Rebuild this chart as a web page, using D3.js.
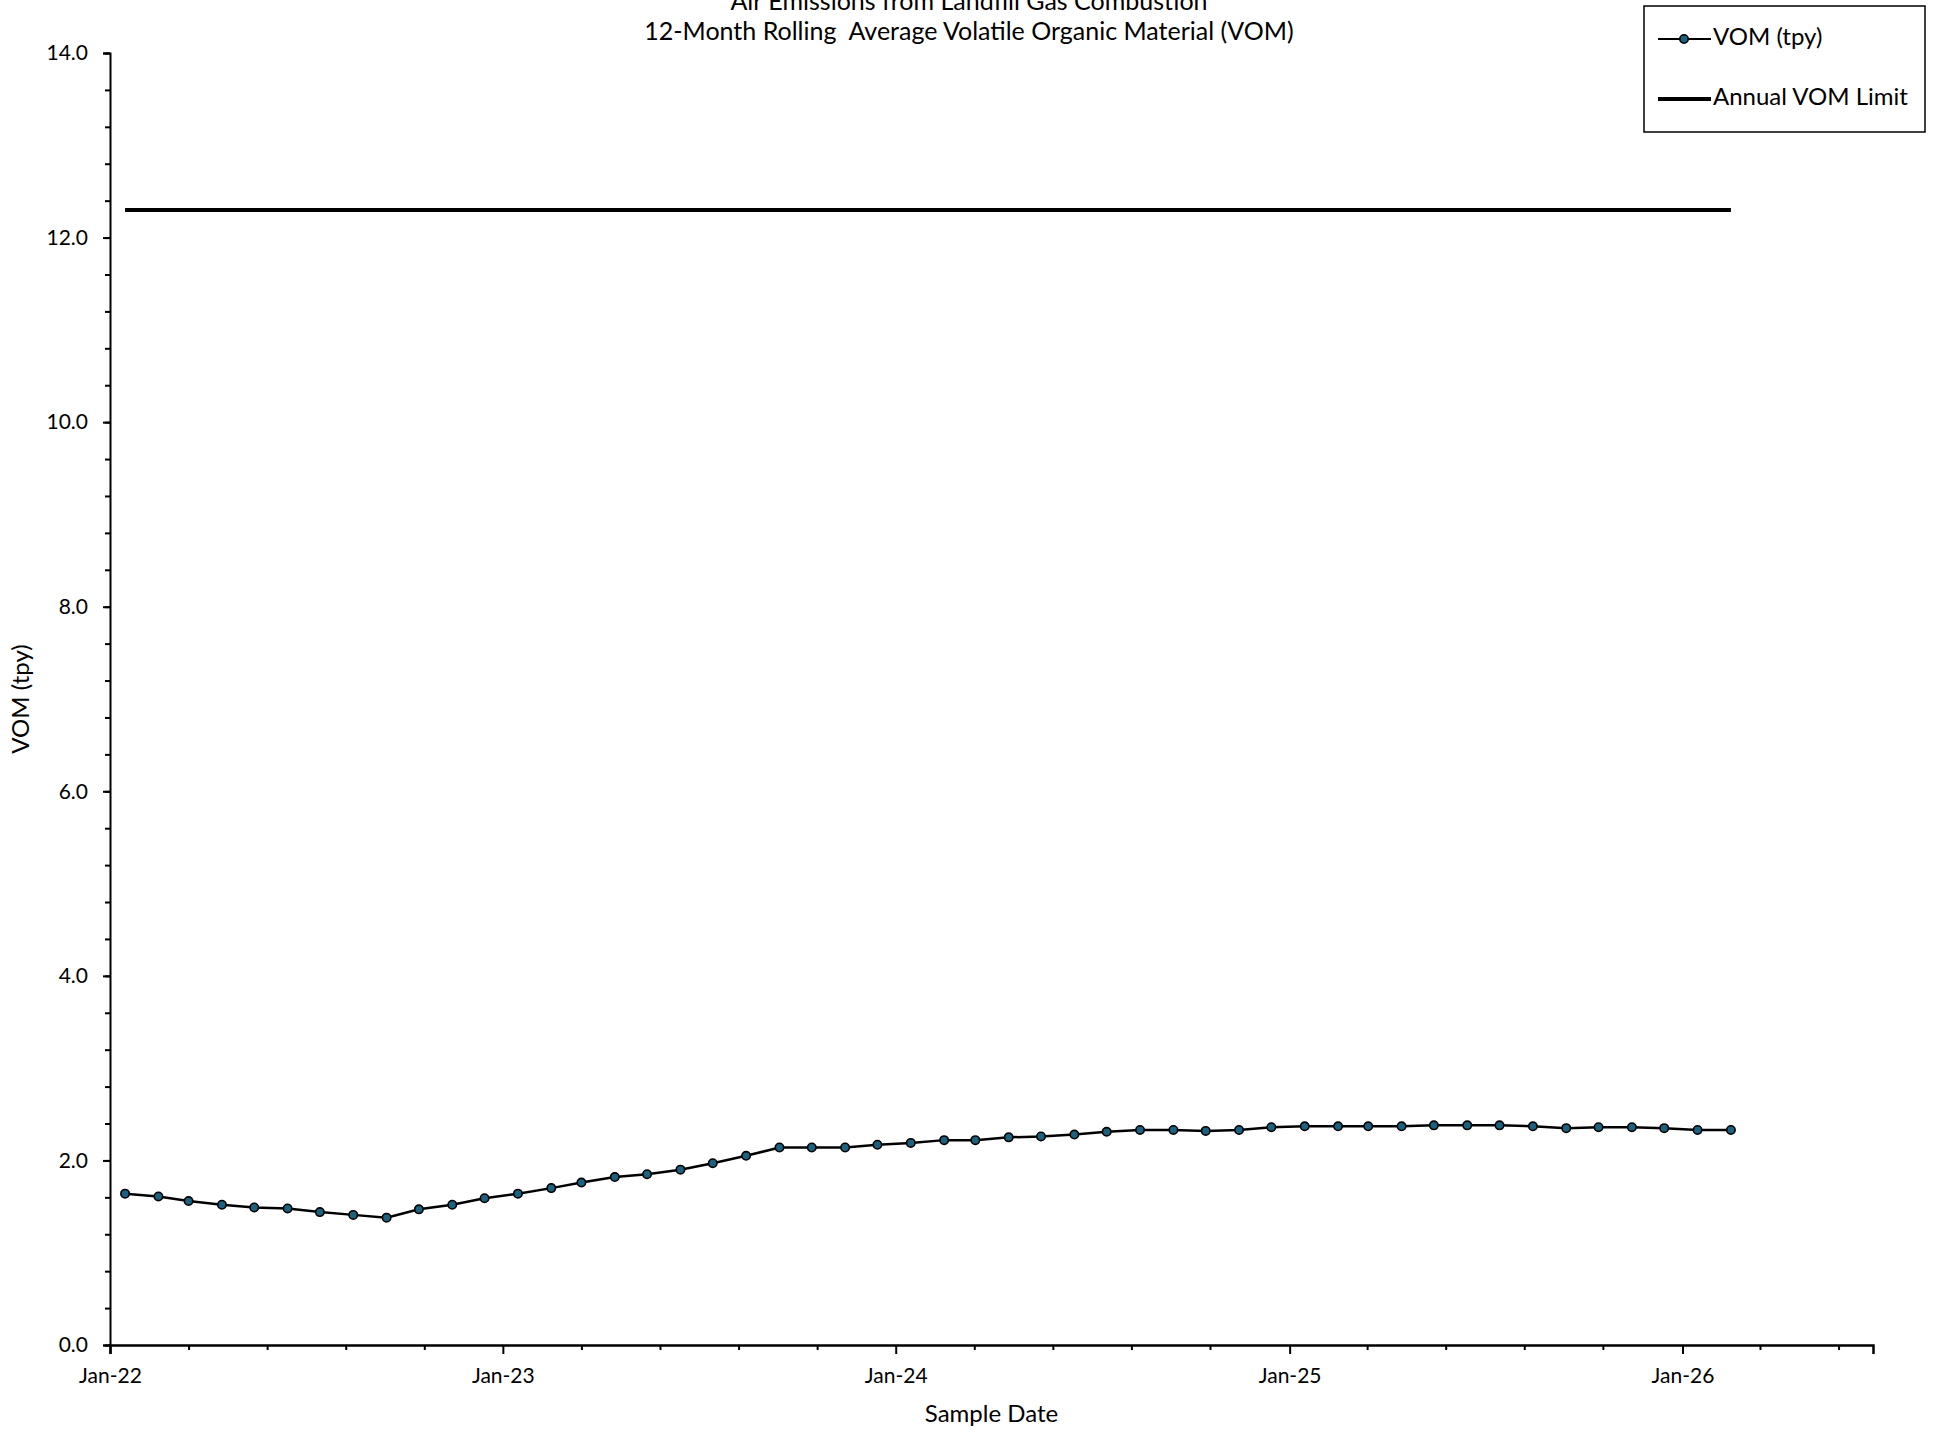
<!DOCTYPE html>
<html>
<head>
<meta charset="utf-8">
<script src="https://cdn.jsdelivr.net/npm/d3@7"></script>
<style>
  body { margin: 0; background: #fff; }
  text { font-family: Lato, "Open Sans", sans-serif; fill: #000; }
</style>
</head>
<body>
<div id="chart"></div>
<script>
// monthly sample dates (mid-month) and 12-month rolling VOM, tpy
const sampleDates = [
  "2022-01-15","2022-02-15","2022-03-15","2022-04-15","2022-05-15","2022-06-15",
  "2022-07-15","2022-08-15","2022-09-15","2022-10-15","2022-11-15","2022-12-15",
  "2023-01-15","2023-02-15","2023-03-15","2023-04-15","2023-05-15","2023-06-15",
  "2023-07-15","2023-08-15","2023-09-15","2023-10-15","2023-11-15","2023-12-15",
  "2024-01-15","2024-02-15","2024-03-15","2024-04-15","2024-05-15","2024-06-15",
  "2024-07-15","2024-08-15","2024-09-15","2024-10-15","2024-11-15","2024-12-15",
  "2025-01-15","2025-02-15","2025-03-15","2025-04-15","2025-05-15","2025-06-15",
  "2025-07-15","2025-08-15","2025-09-15","2025-10-15","2025-11-15","2025-12-15",
  "2026-01-15","2026-02-15"
];
const vomValues = [
  1.64, 1.61, 1.56, 1.52, 1.49, 1.48, 1.44, 1.41, 1.38, 1.47, 1.52, 1.59,
  1.64, 1.70, 1.76, 1.82, 1.85, 1.90, 1.97, 2.05, 2.14, 2.14, 2.14, 2.17,
  2.19, 2.22, 2.22, 2.25, 2.26, 2.28, 2.31, 2.33, 2.33, 2.32, 2.33, 2.36,
  2.37, 2.37, 2.37, 2.37, 2.38, 2.38, 2.38, 2.37, 2.35, 2.36, 2.36, 2.35,
  2.33, 2.33
];
const limitDates = ["2022-01-15", "2026-02-15"];
const limitValues = [12.3, 12.3];

const xTickDates = ["2022-01-01","2023-01-01","2024-01-01","2025-01-01","2026-01-01"];
const xTickLabels = ["Jan-22","Jan-23","Jan-24","Jan-25","Jan-26"];
const yTicks = [0, 2, 4, 6, 8, 10, 12, 14];

const titleLines = ["Air Emissions from Landfill Gas Combustion",
                    "12-Month Rolling  Average Volatile Organic Material (VOM)"];

const parse = d3.utcParse("%Y-%m-%d");

const W = 1940, H = 1432;
const margin = { top: 53, left: 110, right: 67, bottom: 87 };

const svg = d3.select("#chart").append("svg")
    .attr("width", W)
    .attr("height", H);

const x = d3.scaleUtc()
    .domain([parse("2022-01-01"), parse("2026-06-27")])
    .range([margin.left, W - margin.right]);

const y = d3.scaleLinear()
    .domain([0, 14])
    .range([H - margin.bottom, margin.top]);

// title
svg.append("g").selectAll("text")
  .data(titleLines)
  .join("text")
    .attr("x", 969)
    .attr("y", (d, i) => 4 + i * 30)
    .attr("text-anchor", "middle")
    .attr("dominant-baseline", "middle")
    .style("font-size", "25px")
    .style("white-space", "pre")
    .text(d => d);

// y axis, minor ticks first
const yMinor = d3.range(0, 14.001, 0.4);
svg.append("g")
    .attr("transform", `translate(${margin.left},0)`)
    .call(d3.axisLeft(y).tickValues(yMinor).tickSize(5).tickFormat(""))
    .call(g => g.select(".domain").remove())
    .call(g => g.selectAll("line").attr("stroke-width", 2));

svg.append("g")
    .attr("transform", `translate(${margin.left},0)`)
    .call(d3.axisLeft(y).tickValues(yTicks).tickSize(7).tickPadding(15).tickFormat(d3.format(".1f")))
    .call(g => g.select(".domain").attr("stroke-width", 2))
    .call(g => g.selectAll("line").attr("stroke-width", 2))
    .call(g => g.selectAll("text").attr("font-family", null).style("font-size", "21px"));

// x axis
const xMajor = xTickDates.map(parse);
const xMinor = [];
for (let t = 0; ; t += 73) {
  const d = d3.utcDay.offset(parse("2022-01-01"), t);
  if (d > x.domain()[1]) break;
  if (!xMajor.some(m => Math.abs(m - d) < 3 * 864e5)) xMinor.push(d);
}

svg.append("g")
    .attr("transform", `translate(0,${H - margin.bottom})`)
    .call(d3.axisBottom(x).tickValues(xMinor).tickSize(5).tickFormat(""))
    .call(g => g.select(".domain").remove())
    .call(g => g.selectAll("line").attr("stroke-width", 2));

svg.append("g")
    .attr("transform", `translate(0,${H - margin.bottom})`)
    .call(d3.axisBottom(x).tickValues(xMajor).tickSize(9).tickPadding(14)
        .tickFormat((d, i) => xTickLabels[i]))
    .call(g => g.select(".domain").attr("stroke-width", 2.5))
    .call(g => g.selectAll("line").attr("stroke-width", 2))
    .call(g => g.selectAll("text").attr("font-family", null).style("font-size", "21px"));

// axis titles
svg.append("text")
    .attr("x", (margin.left + W - margin.right) / 2)
    .attr("y", 1416)
    .attr("text-anchor", "middle")
    .attr("dominant-baseline", "middle")
    .style("font-size", "24px")
    .text("Sample Date");

svg.append("text")
    .attr("transform", `translate(23,${(y(0) + y(14)) / 2}) rotate(-90)`)
    .attr("text-anchor", "middle")
    .attr("dominant-baseline", "middle")
    .style("font-size", "24px")
    .text("VOM (tpy)");

// limit line
const limitData = limitDates.map((d, i) => ({ date: parse(d), value: limitValues[i] }));
svg.append("path")
    .datum(limitData)
    .attr("fill", "none")
    .attr("stroke", "#000")
    .attr("stroke-width", 4)
    .attr("d", d3.line().x(d => x(d.date)).y(d => y(d.value)));

// VOM series
const vomData = sampleDates.map((d, i) => ({ date: parse(d), value: vomValues[i] }));
svg.append("path")
    .datum(vomData)
    .attr("fill", "none")
    .attr("stroke", "#000")
    .attr("stroke-width", 2.5)
    .attr("d", d3.line().x(d => x(d.date)).y(d => y(d.value)));

svg.append("g").selectAll("circle")
  .data(vomData)
  .join("circle")
    .attr("cx", d => x(d.date))
    .attr("cy", d => y(d.value))
    .attr("r", 4.2)
    .attr("fill", "#1b6180")
    .attr("stroke", "#000")
    .attr("stroke-width", 1.6);

// legend
const legend = svg.append("g").attr("transform", "translate(6,3)");
legend.append("rect")
    .attr("x", 1638).attr("y", 3)
    .attr("width", 281).attr("height", 126)
    .attr("fill", "#fff")
    .attr("stroke", "#000")
    .attr("stroke-width", 1.5);

legend.append("line")
    .attr("x1", 1652).attr("x2", 1705).attr("y1", 36).attr("y2", 36)
    .attr("stroke", "#000").attr("stroke-width", 2);
legend.append("circle")
    .attr("cx", 1678).attr("cy", 36).attr("r", 4.2)
    .attr("fill", "#1b6180").attr("stroke", "#000").attr("stroke-width", 1.6);
legend.append("text")
    .attr("x", 1707).attr("y", 36)
    .attr("dominant-baseline", "middle")
    .style("font-size", "24px")
    .text("VOM (tpy)");

legend.append("line")
    .attr("x1", 1652).attr("x2", 1705).attr("y1", 96).attr("y2", 96)
    .attr("stroke", "#000").attr("stroke-width", 4);
legend.append("text")
    .attr("x", 1707).attr("y", 96)
    .attr("dominant-baseline", "middle")
    .style("font-size", "24px")
    .text("Annual VOM Limit");
</script>
</body>
</html>
